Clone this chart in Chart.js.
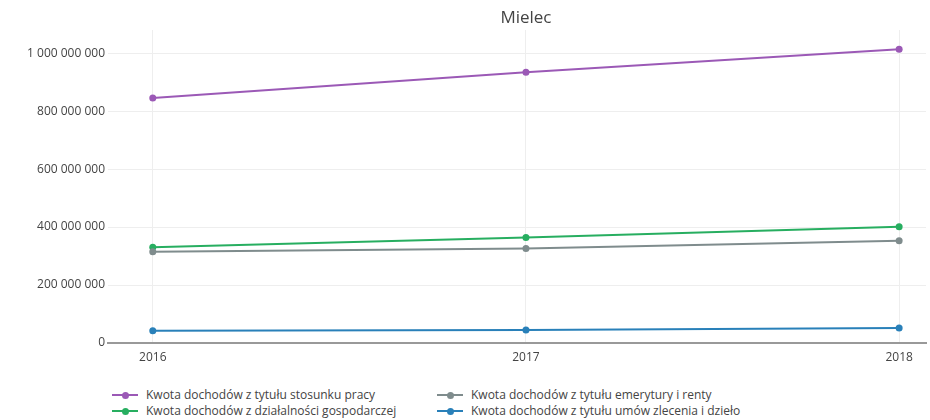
<!DOCTYPE html>
<html lang="pl">
<head>
    <meta charset="UTF-8">
    <title>Mielec</title>
    <script src="https://cdn.jsdelivr.net/npm/chart.js"></script>
    <style>
        body { margin: 0; background: #fff; font-family: "Open Sans", Arial, sans-serif; }
        #wrap { position: relative; width: 930px; height: 420px; }
        #box { position: absolute; left: 0; top: 0; width: 930px; height: 373px; }
        #legend { position: absolute; left: 0; top: 387px; width: 930px; height: 33px; }
        .item { position: absolute; height: 16px; font-size: 12px; color: #444; line-height: 16px; white-space: nowrap; }
        .sym { position: absolute; left: 0; top: 7px; width: 26px; height: 2px; }
        .sym i { position: absolute; left: 10px; top: -2.5px; width: 7px; height: 7px; border-radius: 50%; }
        .txt { position: absolute; left: 34px; top: 0; }
    </style>
</head>
<body>
<div id="wrap">
    <div id="box"><canvas id="chart"></canvas></div>
    <div id="legend"></div>
</div>

<script>
    // dane
    const years = [2016, 2017, 2018];
    const yTicks = [0, 200000000, 400000000, 600000000, 800000000, 1000000000];
    const labels = [
        'Kwota dochodów z tytułu stosunku pracy',
        'Kwota dochodów z tytułu emerytury i renty',
        'Kwota dochodów z działalności gospodarczej',
        'Kwota dochodów z tytułu umów zlecenia i dzieło'
    ];
    const stosunekPracy = [845000000, 934000000, 1014000000];
    const emerytury = [315000000, 326000000, 353000000];
    const dzialalnosc = [330000000, 364000000, 401000000];
    const zlecenia = [42000000, 45000000, 52000000];
    const colors = ['#9b59b6', '#7f8c8d', '#27ae60', '#2980b9'];
    const series = [stosunekPracy, emerytury, dzialalnosc, zlecenia];

    const fmt = v => String(v).replace(/\B(?=(\d{3})+(?!\d))/g, ' ');

    const titlePlugin = {
        id: 'plotTitle',
        afterDraw(chart) {
            const c = chart.ctx;
            c.save();
            c.font = '17px "Open Sans", Arial, sans-serif';
            c.fillStyle = '#444';
            c.textAlign = 'center';
            c.textBaseline = 'middle';
            c.fillText('Mielec', chart.scales.x.getPixelForValue(2017), 18);
            c.restore();
        }
    };

    new Chart(document.getElementById('chart'), {
        type: 'line',
        data: {
            datasets: series.map((s, i) => ({
                label: labels[i],
                data: s.map((v, j) => ({ x: years[j], y: v })),
                borderColor: colors[i],
                backgroundColor: colors[i],
                borderWidth: 2,
                pointRadius: 3.5,
                pointBorderWidth: 0,
                tension: 0
            }))
        },
        options: {
            responsive: true,
            maintainAspectRatio: false,
            animation: false,
            layout: { padding: { top: 30, right: 2, left: 0, bottom: 0 } },
            plugins: {
                legend: { display: false },
                tooltip: { enabled: false }
            },
            scales: {
                x: {
                    type: 'linear',
                    min: 2015.88,
                    max: 2018.072,
                    grid: { color: '#eee', drawTicks: false },
                    border: { color: '#999', width: 2 },
                    ticks: {
                        padding: 7,
                        color: '#444',
                        font: { family: '"Open Sans", Arial, sans-serif', size: 12 },
                        callback: v => String(v)
                    },
                    afterBuildTicks: s => { s.ticks = years.map(v => ({ value: v })); },
                    afterFit: s => { s.height = 30; }
                },
                y: {
                    min: 0,
                    max: 1080000000,
                    grid: { color: '#eee', drawTicks: false },
                    border: { display: false },
                    ticks: {
                        padding: 3,
                        color: '#444',
                        font: { family: '"Open Sans", Arial, sans-serif', size: 12 },
                        callback: v => fmt(v)
                    },
                    afterBuildTicks: s => { s.ticks = yTicks.map(v => ({ value: v })); },
                    afterFit: s => { s.width = 108; }
                }
            }
        },
        plugins: [titlePlugin]
    });

    // legenda w dwóch kolumnach jak w oryginale
    const legend = document.getElementById('legend');
    const pos = [[112, 0], [437, 0], [112, 16], [437, 16]];
    labels.forEach((t, k) => {
        const d = document.createElement('div');
        d.className = 'item';
        d.style.left = pos[k][0] + 'px';
        d.style.top = pos[k][1] + 'px';
        d.innerHTML = '<span class="sym" style="background:' + colors[k] + '"><i style="background:' + colors[k] + '"></i></span>' +
            '<span class="txt">' + t + '</span>';
        legend.appendChild(d);
    });
</script>
</body>
</html>
